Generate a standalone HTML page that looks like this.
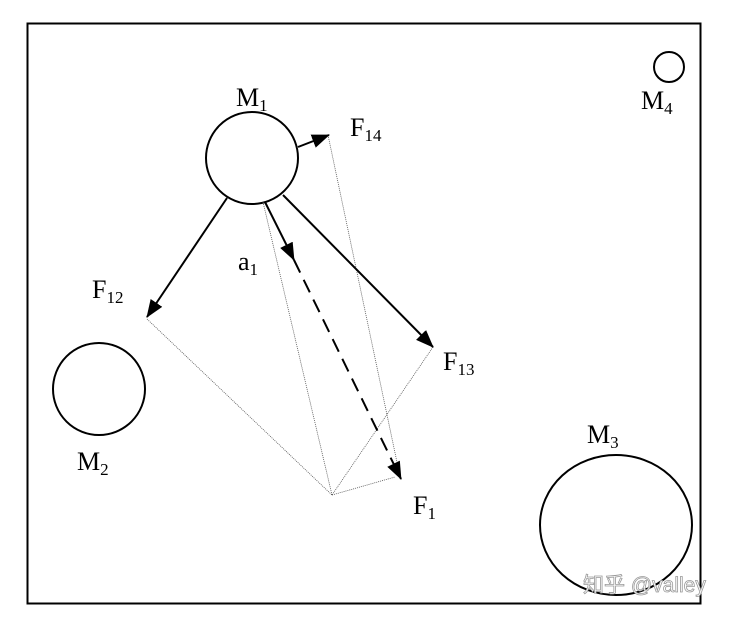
<!DOCTYPE html>
<html><head><meta charset="utf-8"><style>
html,body{margin:0;padding:0;background:#fff;}
svg{display:block;}
text{font-family:"Liberation Serif",serif;fill:#000;}
</style></head><body>
<svg width="732" height="617" viewBox="0 0 732 617" xmlns="http://www.w3.org/2000/svg">
<defs>
<marker id="ahb" markerWidth="18" markerHeight="14" refX="17" refY="7" orient="auto" markerUnits="userSpaceOnUse" viewBox="0 0 18 14">
<path d="M0,0 L18,7 L0,14 z" fill="#000"/>
</marker>
</defs>
<rect x="27.5" y="23.5" width="673" height="580" fill="none" stroke="#000" stroke-width="2"/>
<circle cx="252" cy="158" r="46" fill="none" stroke="#000" stroke-width="2"/>
<circle cx="99" cy="389" r="46" fill="none" stroke="#000" stroke-width="2"/>
<ellipse cx="616" cy="525" rx="76" ry="70" fill="none" stroke="#000" stroke-width="2"/>
<circle cx="669" cy="67" r="15" fill="none" stroke="#000" stroke-width="2"/>
<g stroke="#555" stroke-width="0.8" stroke-dasharray="1,1" fill="none">
<line x1="147" y1="319" x2="332" y2="495"/>
<line x1="433" y1="347" x2="332" y2="495"/>
<line x1="332" y1="495" x2="395" y2="477"/>
<line x1="263" y1="202" x2="332" y2="495"/>
<line x1="328" y1="135" x2="398" y2="467"/>
</g>
<g stroke="#000" stroke-width="2" fill="none">
<line x1="227" y1="198" x2="147" y2="317" marker-end="url(#ahb)"/>
<line x1="283" y1="195" x2="433" y2="347" marker-end="url(#ahb)"/>
<line x1="298" y1="147" x2="329" y2="135" marker-end="url(#ahb)"/>
<line x1="265" y1="202" x2="294" y2="260" marker-end="url(#ahb)"/>
<line x1="294" y1="260" x2="401" y2="479" stroke-dasharray="14,8" marker-end="url(#ahb)"/>
</g>
<g font-size="26">
<text x="236" y="106">M<tspan font-size="17" dy="5">1</tspan></text>
<text x="350" y="136">F<tspan font-size="17" dy="5">14</tspan></text>
<text x="238" y="270">a<tspan font-size="17" dy="5">1</tspan></text>
<text x="92" y="298">F<tspan font-size="17" dy="5">12</tspan></text>
<text x="443" y="370">F<tspan font-size="17" dy="5">13</tspan></text>
<text x="413" y="514">F<tspan font-size="17" dy="5">1</tspan></text>
<text x="77" y="470">M<tspan font-size="17" dy="5">2</tspan></text>
<text x="587" y="443">M<tspan font-size="17" dy="5">3</tspan></text>
<text x="641" y="109">M<tspan font-size="17" dy="5">4</tspan></text>
</g>
<text x="583" y="592" font-size="21" style="font-family:'Liberation Sans','Noto Sans CJK SC',sans-serif;fill:#fff;stroke:#999;stroke-width:0.8">知乎 @valley</text>
</svg>
</body></html>
